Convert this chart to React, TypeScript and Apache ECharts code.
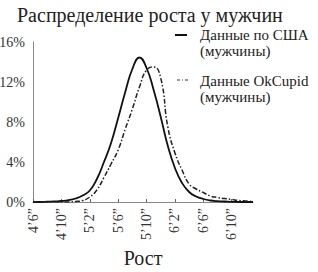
import React, { useEffect, useRef } from "react";
import * as echarts from "echarts";

const heights = [54,55,56,57,58,59,60,61,62,63,64,65,66,67,68,69,70,71,72,73,74,75,76,77,78,79,80,81,82,83,84,85];
const usaValues = [0,0,0.03,0.06,0.1,0.18,0.35,0.65,1.15,2.3,4.0,5.9,8.4,11.0,13.3,14.45,13.4,11.2,8.5,5.6,3.4,1.9,1.0,0.55,0.3,0.15,0.08,0.05,0.02,0,0,0];
const okcValues = [0,0,0,0,0,0,0.05,0.15,0.5,1.2,2.45,3.8,5.2,7.3,9.3,11.5,13.2,13.5,12.4,7.5,4.9,3.2,1.8,1.3,0.95,0.6,0.45,0.35,0.25,0.15,0.1,0.05];
const yTicks = [0, 4, 8, 12, 16];
const title = "Распределение роста у мужчин";
const xTitle = "Рост";
const legendUsa = ["Данные по США", "(мужчины)"];
const legendOkc = ["Данные OkCupid", "(мужчины)"];

const fmtHeight = (v: number) => `${Math.floor(v / 12)}’${v % 12}”`;
const FONT = "'Liberation Serif', 'DejaVu Serif', serif";

export default function App() {
  const ref = useRef<HTMLDivElement>(null);
  useEffect(() => {
    const chart = echarts.init(ref.current!, null, { renderer: "svg" });
    chart.setOption({
      animation: false,
      backgroundColor: "#fff",
      textStyle: { fontFamily: FONT },
      title: {
        text: title,
        left: 12,
        top: 0,
        textStyle: { fontFamily: FONT, fontSize: 20, fontWeight: "normal", color: "#222" },
      },
      grid: { left: 33, right: 65, top: 42, bottom: 70, containLabel: false, outerBoundsMode: "none" },
      xAxis: {
        type: "category",
        data: heights.map(String),
        boundaryGap: false,
        name: xTitle,
        nameLocation: "middle",
        nameGap: 46,
        nameTextStyle: { fontFamily: FONT, fontSize: 20, color: "#222" },
        axisLine: { lineStyle: { color: "#888", width: 1 } },
        axisTick: { inside: true, length: 3, interval: 3, lineStyle: { color: "#666" } },
        axisLabel: {
          interval: 3,
          rotate: 90,
          margin: 6,
          fontSize: 14,
          color: "#333",
          fontFamily: FONT,
          formatter: (v: string) => fmtHeight(Number(v)),
        },
        splitLine: { show: false },
      },
      yAxis: {
        type: "value",
        min: yTicks[0],
        max: yTicks[yTicks.length - 1],
        interval: 4,
        axisLine: { show: true, lineStyle: { color: "#888", width: 1 } },
        axisTick: { show: false },
        splitLine: { show: false },
        axisLabel: { formatter: "{value}%", fontSize: 14, color: "#333", margin: 8, fontFamily: FONT },
      },
      series: [
        {
          name: "США",
          type: "line",
          data: usaValues,
          smooth: true,
          symbol: "none",
          lineStyle: { color: "#111", width: 1.8 },
        },
        {
          name: "OkCupid",
          type: "line",
          data: okcValues,
          smooth: true,
          symbol: "none",
          lineStyle: { color: "#222", width: 1.5, type: [5, 2, 1.5, 2] },
        },
      ],
      graphic: [
        { type: "line", shape: { x1: 175, y1: 35, x2: 187, y2: 35 }, style: { stroke: "#111", lineWidth: 2 } },
        { type: "text", left: 200, top: 27, style: { text: legendUsa[0], fontFamily: FONT, fontSize: 15, fill: "#222" } },
        { type: "text", left: 200, top: 43, style: { text: legendUsa[1], fontFamily: FONT, fontSize: 15, fill: "#222" } },
        { type: "line", shape: { x1: 177, y1: 80, x2: 190, y2: 80 }, style: { stroke: "#333", lineWidth: 1, lineDash: [3, 2, 1, 2] } },
        { type: "text", left: 200, top: 73, style: { text: legendOkc[0], fontFamily: FONT, fontSize: 15, fill: "#222" } },
        { type: "text", left: 200, top: 89, style: { text: legendOkc[1], fontFamily: FONT, fontSize: 15, fill: "#222" } },
      ],
    });
    return () => chart.dispose();
  }, []);
  return <div ref={ref} style={{ width: 318, height: 272, position: "absolute", left: 0, top: 0 }} />;
}
